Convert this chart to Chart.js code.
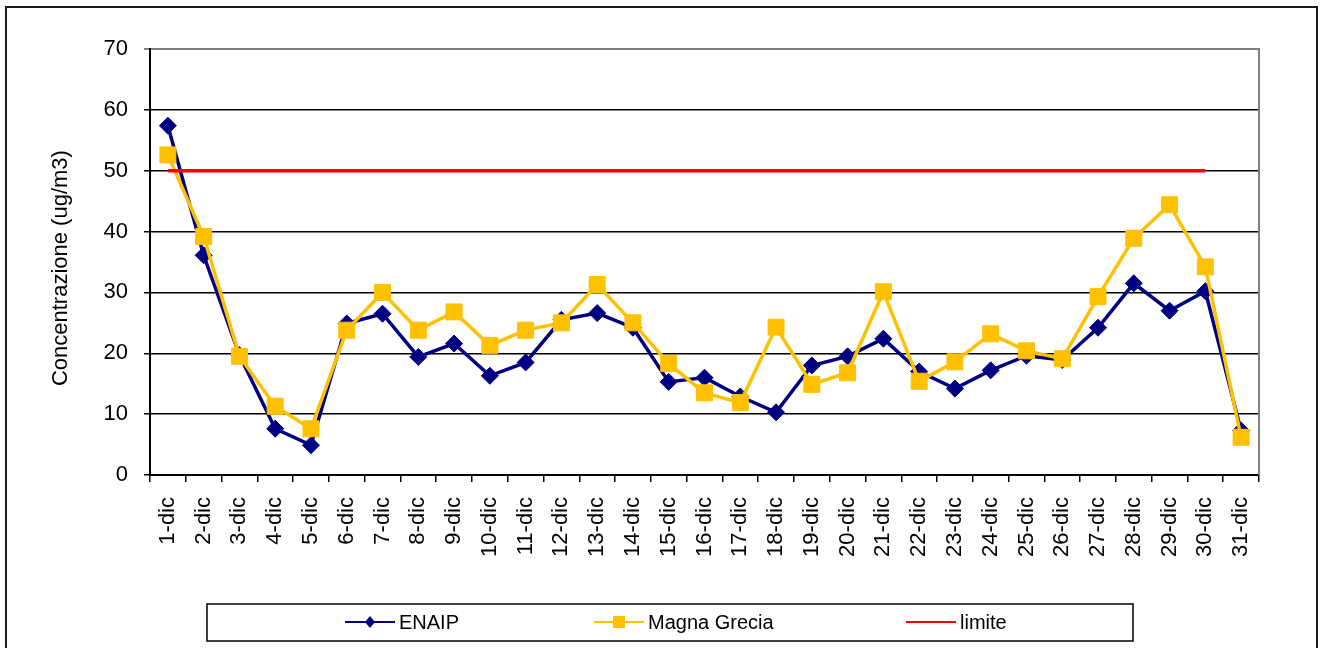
<!DOCTYPE html>
<html>
<head>
<meta charset="utf-8">
<script src="https://cdn.jsdelivr.net/npm/chart.js@4.4.1/dist/chart.umd.min.js"></script>
<style>
  html, body { margin: 0; padding: 0; background: #fff; }
  #chart { display: block; }
</style>
</head>
<body>
<canvas id="chart" width="1321" height="648"></canvas>
<script>
// Concentrazione giornaliera, dicembre - ENAIP vs Magna Grecia vs limite

const days = [
  "1-dic", "2-dic", "3-dic", "4-dic", "5-dic", "6-dic", "7-dic", "8-dic",
  "9-dic", "10-dic", "11-dic", "12-dic", "13-dic", "14-dic", "15-dic", "16-dic",
  "17-dic", "18-dic", "19-dic", "20-dic", "21-dic", "22-dic", "23-dic", "24-dic",
  "25-dic", "26-dic", "27-dic", "28-dic", "29-dic", "30-dic", "31-dic",
];

const enaip = [
  57.4, 36.1, 19.7, 7.6, 4.9, 24.9, 26.5, 19.4, 21.6, 16.3, 18.5, 25.5, 26.6,
  24.2, 15.3, 16.0, 12.9, 10.3, 18.0, 19.5, 22.4, 17.0, 14.2, 17.2, 19.6, 18.9,
  24.2, 31.5, 27.0, 30.2, 7.3,
];

const magnaGrecia = [
  52.6, 39.2, 19.5, 11.3, 7.6, 23.8, 30.0, 23.8, 26.8, 21.3, 23.8, 25.0, 31.3,
  25.0, 18.3, 13.5, 11.9, 24.3, 14.9, 16.8, 30.1, 15.4, 18.6, 23.2, 20.4, 19.1,
  29.3, 38.9, 44.4, 34.2, 6.2,
];

const limite = [
  50, 50, 50, 50, 50, 50, 50, 50, 50, 50, 50, 50, 50, 50, 50, 50,
  50, 50, 50, 50, 50, 50, 50, 50, 50, 50, 50, 50, 50, 50, null,
];

const yTicks = [0, 10, 20, 30, 40, 50, 60, 70];

const fontFamily = '"Liberation Sans", Arial, sans-serif';

// white page, outer frame, plot frame and the boxed legend
const framePlugin = {
  id: "frame",
  beforeDraw(chart) {
    const ctx = chart.ctx;
    ctx.save();
    ctx.fillStyle = "#fff";
    ctx.fillRect(0, 0, chart.width, chart.height);
    ctx.restore();
  },
  afterDraw(chart) {
    const { ctx, chartArea } = chart;
    ctx.save();
    // outer border (bottom edge falls outside the picture)
    ctx.strokeStyle = "#1a1a1a";
    ctx.lineWidth = 2;
    ctx.strokeRect(6, 7, 1311, 700);

    // grey right edge of plot area
    ctx.strokeStyle = "#808080";
    ctx.lineWidth = 2;
    ctx.beginPath();
    ctx.moveTo(chartArea.right, chartArea.top - 1);
    ctx.lineTo(chartArea.right, chartArea.bottom);
    ctx.stroke();

    // legend box
    const box = { x: 207, y: 604, w: 926, h: 37 };
    ctx.fillStyle = "#fff";
    ctx.fillRect(box.x, box.y, box.w, box.h);
    ctx.strokeStyle = "#000";
    ctx.lineWidth = 1.5;
    ctx.strokeRect(box.x, box.y, box.w, box.h);

    const itemX = [345, 594, 906];
    const midY = 622;
    chart.data.datasets.forEach((ds, i) => {
      const x0 = itemX[i];
      ctx.strokeStyle = ds.borderColor;
      ctx.lineWidth = 2;
      ctx.beginPath();
      ctx.moveTo(x0, midY);
      ctx.lineTo(x0 + 50, midY);
      ctx.stroke();
      const cx = x0 + 25;
      ctx.fillStyle = ds.borderColor;
      if (ds.pointStyle === "rectRot") {
        ctx.beginPath();
        ctx.moveTo(cx - 5, midY);
        ctx.lineTo(cx, midY - 6);
        ctx.lineTo(cx + 5, midY);
        ctx.lineTo(cx, midY + 6);
        ctx.closePath();
        ctx.fill();
      } else if (ds.pointStyle === "rect" && ds.pointRadius > 0) {
        ctx.fillRect(cx - 6, midY - 6, 12, 12);
      }
      ctx.fillStyle = "#000";
      ctx.font = "20px " + fontFamily;
      ctx.textBaseline = "middle";
      ctx.textAlign = "left";
      ctx.fillText(ds.label, x0 + 54, midY + 1);
    });
    ctx.restore();
  },
};

const ctx = document.getElementById("chart").getContext("2d");

new Chart(ctx, {
  type: "line",
  data: {
    labels: days,
    datasets: [
      {
        label: "ENAIP",
        data: enaip,
        borderColor: "#000080",
        backgroundColor: "#000080",
        borderWidth: 3.5,
        pointStyle: "rectRot",
        pointRadius: 8.5,
        pointBorderWidth: 1,
        tension: 0,
        order: 2,
      },
      {
        label: "Magna Grecia",
        data: magnaGrecia,
        borderColor: "#FFC000",
        backgroundColor: "#FFC000",
        borderWidth: 3.5,
        pointStyle: "rect",
        pointRadius: 11.3,
        pointBorderWidth: 1,
        tension: 0,
        order: 1,
      },
      {
        label: "limite",
        data: limite,
        borderColor: "#FF0000",
        backgroundColor: "#FF0000",
        borderWidth: 3.5,
        pointStyle: "rect",
        pointRadius: 0,
        tension: 0,
        spanGaps: false,
        order: 0,
      },
    ],
  },
  options: {
    responsive: false,
    animation: false,
    layout: {
      padding: { top: 49, right: 62, left: 0, bottom: 0 },
    },
    plugins: {
      legend: { display: false },
      tooltip: { enabled: false },
    },
    scales: {
      x: {
        offset: true,
        afterFit(scale) {
          scale.height = 173;
        },
        grid: {
          offset: true,
          drawOnChartArea: false,
          drawTicks: true,
          tickLength: 7,
          color: "#000",
          lineWidth: 1.5,
        },
        border: { display: true, color: "#000", width: 2 },
        ticks: {
          autoSkip: false,
          minRotation: 90,
          maxRotation: 90,
          padding: 15,
          color: "#000",
          font: { family: fontFamily, size: 22 },
        },
      },
      y: {
        min: 0,
        max: 70,
        afterFit(scale) {
          scale.width = 150;
        },
        afterBuildTicks(scale) {
          scale.ticks = yTicks.map((v) => ({ value: v }));
        },
        grid: {
          drawTicks: true,
          tickLength: 6,
          color: (c) => (c.tick && c.tick.value === 70 ? "#808080" : "#000"),
          lineWidth: (c) => (c.tick && c.tick.value === 70 ? 2 : 1.5),
        },
        border: { display: true, color: "#000", width: 2 },
        ticks: {
          padding: 16,
          color: "#000",
          font: { family: fontFamily, size: 22 },
        },
        title: {
          display: true,
          text: "Concentrazione (ug/m3)  ",
          color: "#000",
          font: { family: fontFamily, size: 22 },
          padding: { top: 48, bottom: 0 },
        },
      },
    },
  },
  plugins: [framePlugin],
});
</script>
</body>
</html>
